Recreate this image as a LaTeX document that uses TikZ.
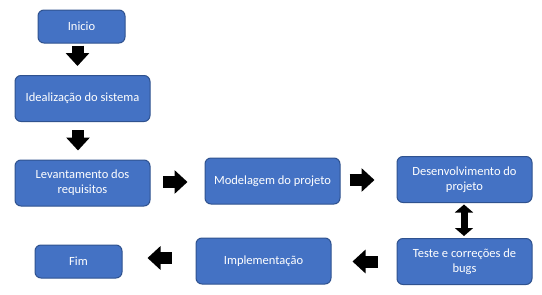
\documentclass[tikz,border=0pt]{standalone}
\usepackage{fontspec}
\setmainfont{Carlito}
\usetikzlibrary{arrows.meta}

\definecolor{boxfill}{HTML}{4472C4}
\definecolor{boxline}{HTML}{2F528F}

\begin{document}
\begin{tikzpicture}
  [x=1pt,y=-1pt,
   box/.style={draw=boxline,fill=boxfill,line width=1pt,rounded corners=6pt,
     text=white,align=center,font=\fontsize{12.5}{15}\selectfont,
     minimum width=135pt,minimum height=46pt,inner sep=2pt},
   smallbox/.style={box,minimum width=87pt,minimum height=33pt},
   blockarrow/.style={line width=12pt,-{Triangle[length=13pt,width=23pt]}},
   twoway/.style={line width=7pt,{Triangle[length=8pt,width=18pt]}-{Triangle[length=8pt,width=18pt]}}]
  \useasboundingbox (0,0) rectangle (542,295);

  \node[smallbox] (ini)   at (81.5,26.5)  {Inicio};
  \node[box]      (ideal) at (82.5,98.5)  {Idealização do sistema};
  \node[box]      (lev)   at (82.5,183)   {Levantamento dos\\requisitos};
  \node[box]      (mod)   at (272.5,181)  {Modelagem do projeto};
  \node[box]      (dev)   at (464.5,179.5){Desenvolvimento do\\projeto};
  \node[box]      (teste) at (464.5,261.5){Teste e correções de\\bugs};
  \node[box]      (impl)  at (263.5,261)  {Implementação};
  \node[smallbox] (fim)   at (78.5,261.5) {Fim};

  % block arrows between the steps
  \draw[blockarrow,shorten <=2pt,shorten >=9pt]
    ([xshift=-4pt]ini.south) -- ([xshift=-4pt]ini.south |- ideal.north);
  \draw[blockarrow,shorten <=8pt,shorten >=9pt]
    ([xshift=-4.5pt]ideal.south) -- ([xshift=-4.5pt]ideal.south |- lev.north);
  \draw[blockarrow,shorten <=12.5pt,shorten >=17pt]
    ([yshift=1pt]lev.east) -- ([yshift=1pt]lev.east -| mod.west);
  \draw[blockarrow,shorten <=9pt,shorten >=22pt]
    ([yshift=1pt]mod.east) -- ([yshift=1pt]mod.east -| dev.west);
  \draw[twoway,shorten <=1.5pt,shorten >=2pt]
    ([xshift=-0.5pt]dev.south) -- ([xshift=-0.5pt]teste.north);
  \draw[blockarrow,shorten <=19pt,shorten >=21pt]
    (teste.west) -- (teste.west -| impl.east);
  \draw[blockarrow,shorten <=24pt,shorten >=25pt]
    ([yshift=3pt]impl.west) -- ([yshift=3pt]impl.west -| fim.east);
\end{tikzpicture}
\end{document}
